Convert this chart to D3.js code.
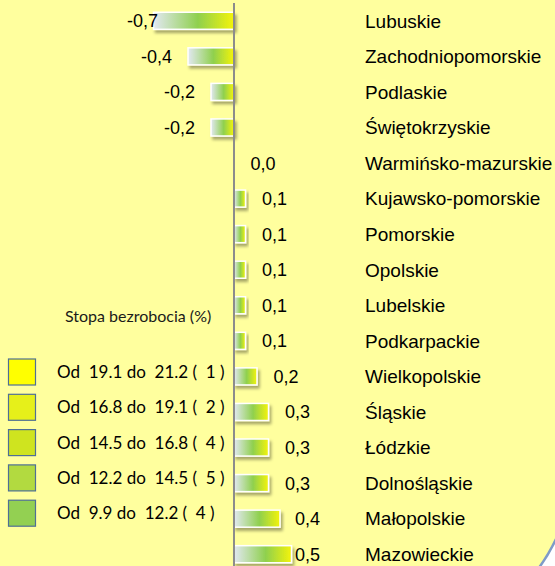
<!DOCTYPE html>
<html>
<head>
<meta charset="utf-8">
<script src="https://cdn.jsdelivr.net/npm/d3@7"></script>
<style>
  body { margin: 0; background: #fff; }
  svg { display: block; }
</style>
</head>
<body>
<div id="chart"></div>
<script>
// regions, top to bottom, with change of unemployment rate
var regions = ["Lubuskie", "Zachodniopomorskie", "Podlaskie", "Świętokrzyskie",
  "Warmińsko-mazurskie", "Kujawsko-pomorskie", "Pomorskie", "Opolskie", "Lubelskie",
  "Podkarpackie", "Wielkopolskie", "Śląskie", "Łódzkie", "Dolnośląskie", "Małopolskie",
  "Mazowieckie"];
var values = [-0.7, -0.4, -0.2, -0.2, 0.0, 0.1, 0.1, 0.1, 0.1, 0.1, 0.2, 0.3, 0.3, 0.3, 0.4, 0.5];

var legendTitle = "Stopa bezrobocia (%)";
var legendLabels = ["Od  19.1 do  21.2 (  1 )", "Od  16.8 do  19.1 (  2 )",
  "Od  14.5 do  16.8 (  4 )", "Od  12.2 do  14.5 (  5 )", "Od  9.9 do  12.2 (  4 )"];
var legendColors = ["#ffff00", "#e6f01a", "#cfe41f", "#b2da40", "#93d052"];

var W = 555, H = 566;

var svg = d3.select("#chart").append("svg")
    .attr("width", W)
    .attr("height", H);

var defs = svg.append("defs");

var grad = defs.append("linearGradient")
    .attr("id", "barGrad")
    .attr("x1", "0%").attr("x2", "100%")
    .attr("y1", "0%").attr("y2", "0%");
grad.append("stop").attr("offset", "0%").attr("stop-color", "#e2e8f2");
grad.append("stop").attr("offset", "55%").attr("stop-color", "#8fd04e");
grad.append("stop").attr("offset", "100%").attr("stop-color", "#f4f40a");

var shadow = defs.append("filter").attr("id", "shadow")
    .attr("x", "-20%").attr("y", "-30%").attr("width", "150%").attr("height", "180%");
shadow.append("feDropShadow")
    .attr("dx", 2).attr("dy", 3).attr("stdDeviation", 1.5)
    .attr("flood-color", "#000").attr("flood-opacity", 0.35);

// background panel, rounded bottom-right corner
svg.append("path")
    .attr("d", "M-5,-5 H" + (W + 6) + " V528 Q551,552 538," + (H + 3) + " H-5 Z")
    .attr("fill", "#ffff9e")
    .attr("stroke", "#7f9cc8")
    .attr("stroke-width", 2.5);

var x = d3.scaleLinear()
    .domain([-1, 1])
    .range([119, 349]);

var y = d3.scaleBand()
    .domain(regions)
    .range([3, 572])
    .paddingInner(0.52)
    .paddingOuter(0.26);

var rows = svg.selectAll(".row")
    .data(regions.map(function(d, i) { return {name: d, v: values[i]}; }))
  .enter().append("g")
    .attr("class", "row");

rows.filter(function(d) { return d.v !== 0; })
  .append("rect")
    .attr("x", function(d) { return x(Math.min(0, d.v)); })
    .attr("y", function(d) { return y(d.name); })
    .attr("width", function(d) { return Math.abs(x(d.v) - x(0)); })
    .attr("height", y.bandwidth())
    .attr("fill", "url(#barGrad)")
    .attr("stroke", "#ffffff")
    .attr("stroke-width", 1.5)
    .attr("filter", "url(#shadow)");

// zero axis
svg.append("line")
    .attr("x1", x(0)).attr("x2", x(0))
    .attr("y1", 3).attr("y2", H)
    .attr("stroke", "#8c8c8c")
    .attr("stroke-width", 2);

// value labels
rows.append("text")
    .attr("x", function(d) {
      if (d.v < 0) return Math.max(x(d.v) - 16, 158);
      return Math.min(x(d.v) + 16.5, 295);
    })
    .attr("y", function(d) { return y(d.name) + y.bandwidth() / 2; })
    .attr("dy", "0.36em")
    .attr("text-anchor", function(d) { return d.v < 0 ? "end" : "start"; })
    .style("font-family", "'Liberation Sans', Arial, sans-serif")
    .style("font-size", "18px")
    .attr("fill", "#000")
    .text(function(d) { return d3.format(".1f")(d.v).replace(".", ",").replace("−", "-"); });

// category labels
rows.append("text")
    .attr("x", 365)
    .attr("y", function(d) { return y(d.name) + y.bandwidth() / 2; })
    .attr("dy", "0.36em")
    .style("font-family", "'Liberation Sans', Arial, sans-serif")
    .style("font-size", "19px")
    .attr("fill", "#000")
    .text(function(d) { return d.name; });

// legend
var legend = svg.append("g").attr("class", "legend");

legend.append("text")
    .attr("x", 65).attr("y", 322)
    .style("font-family", "Lato, 'Open Sans', sans-serif")
    .style("font-size", "16px")
    .attr("fill", "#1a1a1a")
    .text(legendTitle);

var items = legend.selectAll(".item")
    .data(legendLabels)
  .enter().append("g")
    .attr("class", "item")
    .attr("transform", function(d, i) { return "translate(0," + (372 + i * 35.3) + ")"; });

items.append("rect")
    .attr("x", 8.5).attr("y", -13)
    .attr("width", 27).attr("height", 26)
    .attr("fill", function(d, i) { return legendColors[i]; })
    .attr("stroke", "#4f6f96")
    .attr("stroke-width", 1.2);

items.append("text")
    .attr("x", 57).attr("y", 0)
    .attr("dy", "0.35em")
    .style("font-family", "Lato, 'Open Sans', sans-serif")
    .style("font-size", "17px")
    .style("white-space", "pre")
    .attr("xml:space", "preserve")
    .attr("fill", "#000")
    .text(function(d) { return d; });
</script>
</body>
</html>
